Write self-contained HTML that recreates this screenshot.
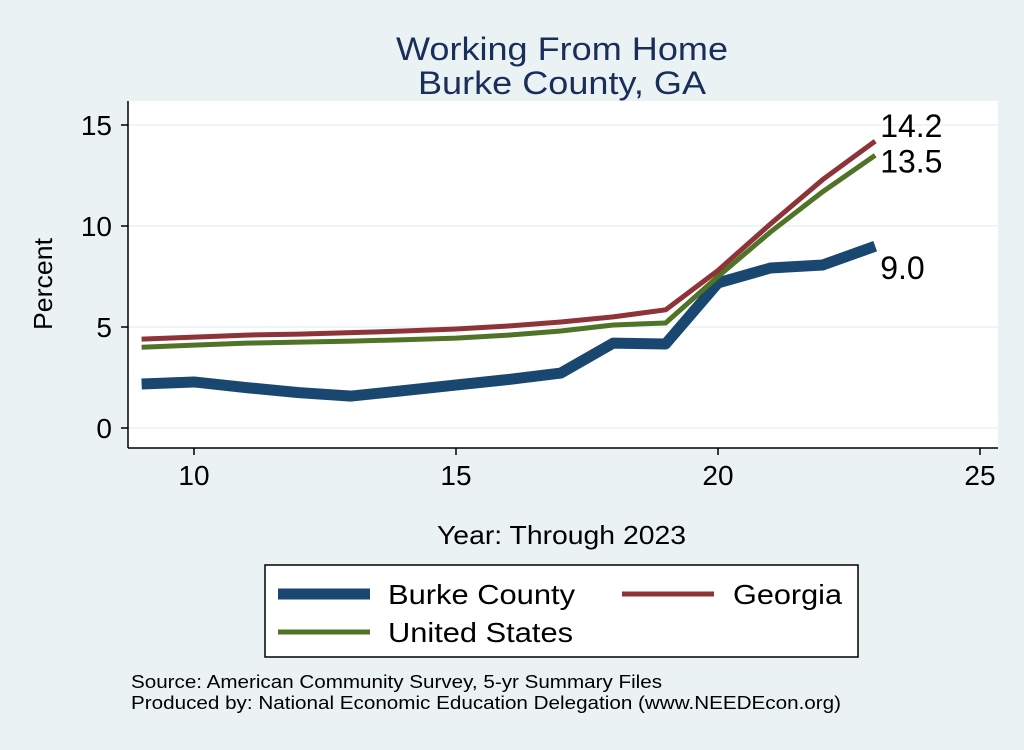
<!DOCTYPE html>
<html><head><meta charset="utf-8"><style>
body{margin:0;background:#eaf2f3;font-family:"Liberation Sans",sans-serif}
svg text{font-family:"Liberation Sans",sans-serif}
</style></head><body>
<svg width="1024" height="745" viewBox="0 0 1024 745">
<rect width="1024" height="745" fill="#eaf2f3"/>
<text x="396" y="60" font-size="32" fill="#1a2e5a" textLength="332" lengthAdjust="spacingAndGlyphs">Working From Home</text>
<text x="418" y="94" font-size="32" fill="#1a2e5a" textLength="288" lengthAdjust="spacingAndGlyphs">Burke County, GA</text>
<rect x="128" y="101" width="870" height="347" fill="#fff"/>
<g id="grid"></g><g id="axes"></g><g id="series"></g>
<text x="437" y="544" font-size="26" textLength="249" lengthAdjust="spacingAndGlyphs">Year: Through 2023</text>
<text x="0" y="0" font-size="26" text-anchor="middle" textLength="92" lengthAdjust="spacingAndGlyphs" transform="translate(52,284) rotate(-90)">Percent</text>
<g>
<rect x="265" y="565" width="593" height="92" fill="#fff" stroke="#000" stroke-width="1.5"/>
<line x1="278" y1="594" x2="370" y2="594" stroke="#1a4770" stroke-width="11"/>
<text x="388" y="604" font-size="28" textLength="187" lengthAdjust="spacingAndGlyphs">Burke County</text>
<line x1="622" y1="594" x2="714" y2="594" stroke="#8e3338" stroke-width="5"/>
<text x="733" y="604" font-size="28" textLength="109" lengthAdjust="spacingAndGlyphs">Georgia</text>
<line x1="278" y1="632" x2="370" y2="632" stroke="#4f7327" stroke-width="5"/>
<text x="388" y="642" font-size="28" textLength="185" lengthAdjust="spacingAndGlyphs">United States</text>
</g>
<text x="131" y="688" font-size="18" textLength="531" lengthAdjust="spacingAndGlyphs">Source: American Community Survey, 5-yr Summary Files</text>
<text x="131" y="709" font-size="18" textLength="710" lengthAdjust="spacingAndGlyphs">Produced by: National Economic Education Delegation (www.NEEDEcon.org)</text>
</svg>
<script>
const years=[9,10,11,12,13,14,15,16,17,18,19,20,21,22,23];
const burke=[2.18,2.28,2.0,1.75,1.58,1.85,2.13,2.4,2.72,4.2,4.16,7.18,7.92,8.07,9.0];
const georgia=[4.4,4.5,4.6,4.65,4.72,4.8,4.9,5.05,5.25,5.5,5.85,7.8,10.1,12.3,14.2];
const us=[4.0,4.1,4.2,4.25,4.3,4.37,4.45,4.6,4.8,5.1,5.2,7.5,9.7,11.7,13.5];
const xTicks=[10,15,20,25];
const yTicks=[0,5,10,15];
const NS="http://www.w3.org/2000/svg";
const X=v=>194+(v-10)*52.4;
const Y=v=>428-v*20.2;
function mk(t,a,p){const e=document.createElementNS(NS,t);for(const k in a)e.setAttribute(k,a[k]);p.appendChild(e);return e;}
const grid=document.getElementById('grid'),axes=document.getElementById('axes'),ser=document.getElementById('series');
yTicks.forEach(v=>{
 const g=mk('line',{x1:128,x2:998,y1:Y(v),y2:Y(v),stroke:'#eaf2f3','stroke-width':1.5},grid);
 
 
 mk('line',{x1:121,x2:128,y1:Y(v),y2:Y(v),stroke:'#000','stroke-width':1.5},axes);
 const t=mk('text',{x:112,y:Y(v)+10,'font-size':28,'text-anchor':'end'},axes);t.textContent=v;
 
 
});
mk('line',{x1:128,x2:128,y1:101,y2:448,stroke:'#000','stroke-width':1.5},axes);
mk('line',{x1:128,x2:998,y1:448,y2:448,stroke:'#000','stroke-width':1.5},axes);
xTicks.forEach(v=>{
 mk('line',{x1:X(v),x2:X(v),y1:448,y2:455,stroke:'#000','stroke-width':1.5},axes);
 const t=mk('text',{x:X(v),y:485,'font-size':28,'text-anchor':'middle'},axes);t.textContent=v;
 
 
});
function line(d,c,w,name){
 const p=mk('polyline',{points:years.map((y,i)=>X(y)+','+Y(d[i])).join(' '),fill:'none',stroke:c,'stroke-width':w,'stroke-linejoin':'round'},ser);
 
 
}
line(burke,'#1a4770',11,'line-burke-county');
line(us,'#4f7327',5,'line-united-states');
line(georgia,'#8e3338',5,'line-georgia');
const last=years.length-1;
[[georgia,-4,'label-georgia'],[us,17,'label-us'],[burke,33,'label-burke']].forEach(([d,dy,n])=>{
 const t=mk('text',{x:X(years[last])+5,y:Y(d[last])+dy,'font-size':32},ser);
 t.textContent=d[last].toFixed(1);
 
 
});
</script>
</body></html>
